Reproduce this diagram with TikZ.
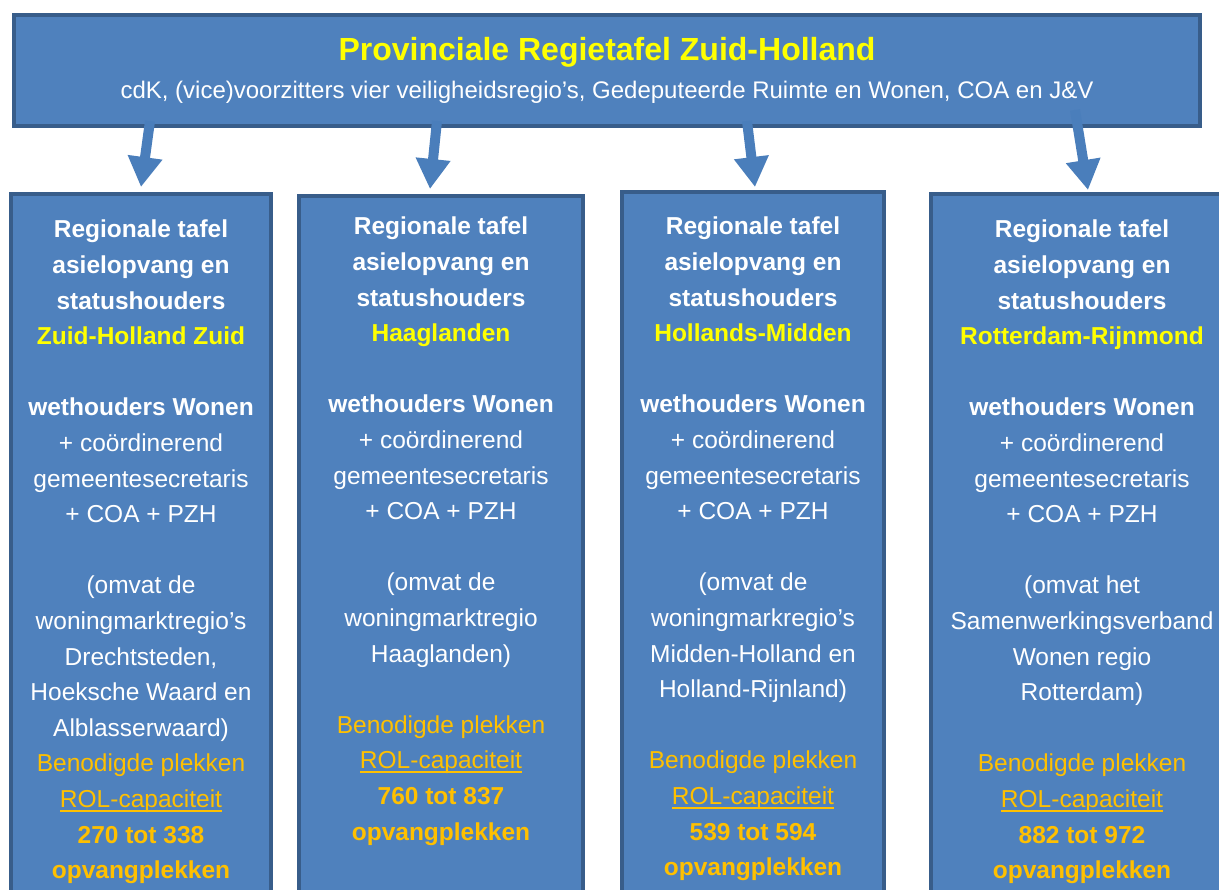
\documentclass[tikz,border=0pt]{standalone}
\usepackage{fontspec}
\setmainfont{Liberation Sans}
\usetikzlibrary{positioning}
\usetikzlibrary{arrows.meta}
\definecolor{boxblue}{HTML}{4F81BD}
\definecolor{boxedge}{HTML}{385D8A}
\definecolor{arrowblue}{HTML}{4A7EBB}
\definecolor{titleyellow}{HTML}{FFFF00}
\definecolor{plekorange}{HTML}{FFC000}
\newcommand{\plek}[1]{\textcolor{plekorange}{#1}}
\newcommand{\regio}[1]{\textcolor{titleyellow}{\textbf{#1}}}
\newcommand{\onderlijn}[1]{\setbox0\hbox{#1}%
    \rlap{\rule[-4.2pt]{\wd0}{1.8pt}}\box0}
\tikzset{
    council/.style = {draw=boxedge, fill=boxblue, line width=4.5pt,
                      minimum width=1186pt, minimum height=111pt,
                      inner sep=0pt, align=center, text=white,
                      font=\fontsize{24}{38}\selectfont
    },
    regio box/.style = {draw=boxedge, fill=boxblue, line width=4.5pt,
                        anchor=north west, inner sep=0pt, outer sep=0pt,
                        minimum height=740pt
    },
    regio text/.style = {text=white, align=center, inner sep=0pt,
                         font=\fontsize{24.5}{35.6}\selectfont
    },
    feed arrow/.style = {draw=arrowblue, line width=10pt,
                         -{Triangle[length=30pt, width=33pt]}
    },
}

\begin{document}
\begin{tikzpicture}[x=1pt, y=-1pt]
    \clip (0,0) rectangle (1219,890);
    \useasboundingbox (0,0) rectangle (1219,890);
    % provinciale tafel
    \node (prov) [council] at (607,70.5)
        {{\fontsize{32}{38}\selectfont\bfseries\color{titleyellow}
          Provinciale Regietafel Zuid-Holland}\\
         cdK, (vice)voorzitters vier veiligheidsregio’s, Gedeputeerde
         Ruimte en Wonen, COA en J\&V};
    % regionale tafels
    \node (zhz) [regio box, minimum width=260pt] at (11,194) {};
    \node (hgl) [regio box, minimum width=284pt] at (299,196) {};
    \node (hmd) [regio box, minimum width=262pt] at (622,192) {};
    \node (rrm) [regio box, minimum width=302pt] at (931,194) {};
    \node (zhz-text) [regio text, below=26pt of zhz.north]
        {\textbf{Regionale tafel}\\ \textbf{asielopvang en}\\
         \textbf{statushouders}\\ \regio{Zuid-Holland Zuid}\\[35.6pt]
         \textbf{wethouders Wonen}\\ + coördinerend\\
         gemeentesecretaris\\ + COA + PZH\\[35.6pt]
         (omvat de\\ woningmarktregio’s\\ Drechtsteden,\\
         Hoeksche Waard en\\ Alblasserwaard)\\
         \plek{Benodigde plekken}\\ \plek{\onderlijn{ROL-capaciteit}}\\
         \plek{\textbf{270 tot 338}}\\ \plek{\textbf{opvangplekken}}};
    \node (hgl-text) [regio text, below=21pt of hgl.north]
        {\textbf{Regionale tafel}\\ \textbf{asielopvang en}\\
         \textbf{statushouders}\\ \regio{Haaglanden}\\[35.6pt]
         \textbf{wethouders Wonen}\\ + coördinerend\\
         gemeentesecretaris\\ + COA + PZH\\[35.6pt]
         (omvat de\\ woningmarktregio\\ Haaglanden)\\[35.6pt]
         \plek{Benodigde plekken}\\ \plek{\onderlijn{ROL-capaciteit}}\\
         \plek{\textbf{760 tot 837}}\\ \plek{\textbf{opvangplekken}}};
    \node (hmd-text) [regio text, below=25pt of hmd.north]
        {\textbf{Regionale tafel}\\ \textbf{asielopvang en}\\
         \textbf{statushouders}\\ \regio{Hollands-Midden}\\[35.6pt]
         \textbf{wethouders Wonen}\\ + coördinerend\\
         gemeentesecretaris\\ + COA + PZH\\[35.6pt]
         (omvat de\\ woningmarkregio’s\\ Midden-Holland en\\
         Holland-Rijnland)\\[35.6pt]
         \plek{Benodigde plekken}\\ \plek{\onderlijn{ROL-capaciteit}}\\
         \plek{\textbf{539 tot 594}}\\ \plek{\textbf{opvangplekken}}};
    \node (rrm-text) [regio text, below=26pt of rrm.north]
        {\textbf{Regionale tafel}\\ \textbf{asielopvang en}\\
         \textbf{statushouders}\\ \regio{Rotterdam-Rijnmond}\\[35.6pt]
         \textbf{wethouders Wonen}\\ + coördinerend\\
         gemeentesecretaris\\ + COA + PZH\\[35.6pt]
         (omvat het\\ Samenwerkingsverband\\ Wonen regio\\
         Rotterdam)\\[35.6pt]
         \plek{Benodigde plekken}\\ \plek{\onderlijn{ROL-capaciteit}}\\
         \plek{\textbf{882 tot 972}}\\ \plek{\textbf{opvangplekken}}};
    % pijlen
    \coordinate (zhz-tail) at (150,121);
    \coordinate (zhz-tip)  at (141,187);
    \coordinate (hgl-tail) at (437,121);
    \coordinate (hgl-tip)  at (430,189);
    \coordinate (hmd-tail) at (747,121);
    \coordinate (hmd-tip)  at (755,187);
    \coordinate (rrm-tail) at (1075,110);
    \coordinate (rrm-tip)  at (1088,190);
    \foreach \r in {zhz,hgl,hmd,rrm}
        \draw [feed arrow] (\r-tail) -- (\r-tip);
\end{tikzpicture}
\end{document}
